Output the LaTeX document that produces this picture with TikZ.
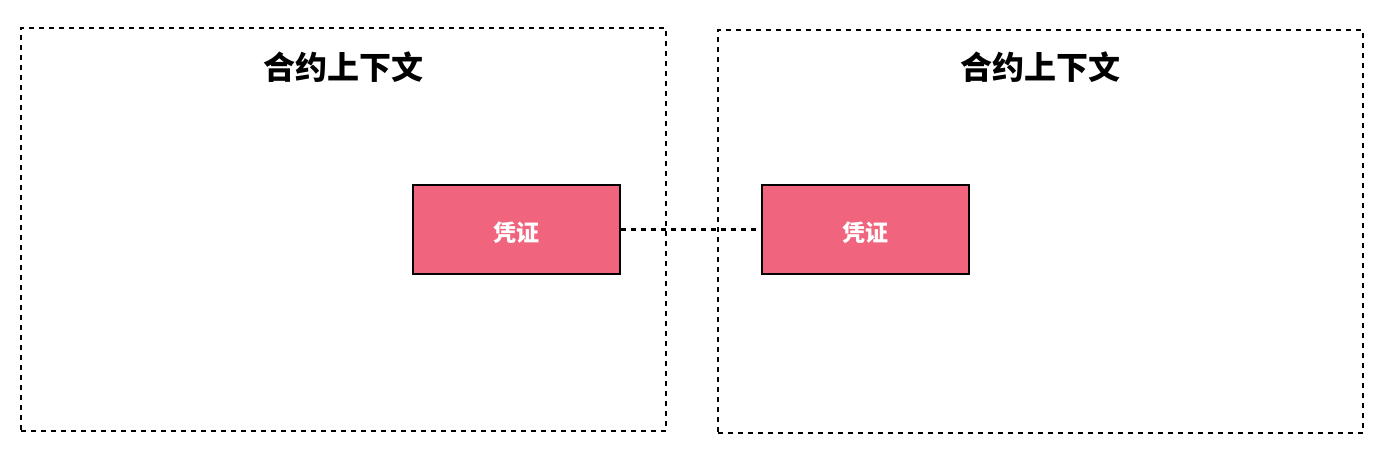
\documentclass[tikz,border=0pt]{standalone}
\usepackage{fontspec}
\setmainfont{Noto Sans CJK SC}
\usetikzlibrary{positioning}
\pgfdeclarelayer{nodelayer}
\pgfdeclarelayer{edgelayer}
\pgfsetlayers{edgelayer,nodelayer,main}
\definecolor{voucherred}{RGB}{240,100,126}
\tikzstyle{context box}=[fill=none, draw=black, line width=1.2pt, dash pattern=on 2.5pt off 2.5pt, shape=rectangle, minimum width=322.5pt, minimum height=201.5pt, inner sep=0pt]
\tikzstyle{context title}=[fill=none, draw=none, font=\bfseries\fontsize{16}{18}\selectfont]
\tikzstyle{voucher}=[fill=voucherred, draw=black, line width=1.2pt, shape=rectangle, minimum width=103.5pt, minimum height=44.5pt, inner sep=0pt, text=white, font=\bfseries\fontsize{11.5}{13}\selectfont]
\tikzstyle{voucher label}=[fill=none, draw=none, text=white, font=\bfseries\fontsize{11.5}{13}\selectfont]
\tikzstyle{link edge}=[draw=black, line width=1.2pt, dash pattern=on 2.5pt off 2.5pt]

\begin{document}
\begin{tikzpicture}[x=0.5pt, y=-0.5pt]
	\useasboundingbox (0, 0) rectangle (1390, 454);
	\begin{pgfonlayer}{nodelayer}
		\node [style=context box] (leftctx) at (343.5, 229.5) {};
		\node [style=context box] (rightctx) at (1040.5, 231.5) {};
		\node [style=context title] (lefttitle) at (343, 67) {合约上下文};
		\node [style=context title] (righttitle) at (1040, 67) {合约上下文};
		\node [style=voucher] (leftvoucher) at (516.5, 229.5) {};
		\node [style=voucher] (rightvoucher) at (865.5, 229.5) {};
		\node [style=voucher label] (leftlabel) at (516.5, 233) {凭证};
		\node [style=voucher label] (rightlabel) at (865.5, 233) {凭证};
	\end{pgfonlayer}
	\begin{pgfonlayer}{edgelayer}
		\draw [style=link edge] (leftvoucher) to (rightvoucher);
	\end{pgfonlayer}
\end{tikzpicture}
\end{document}
